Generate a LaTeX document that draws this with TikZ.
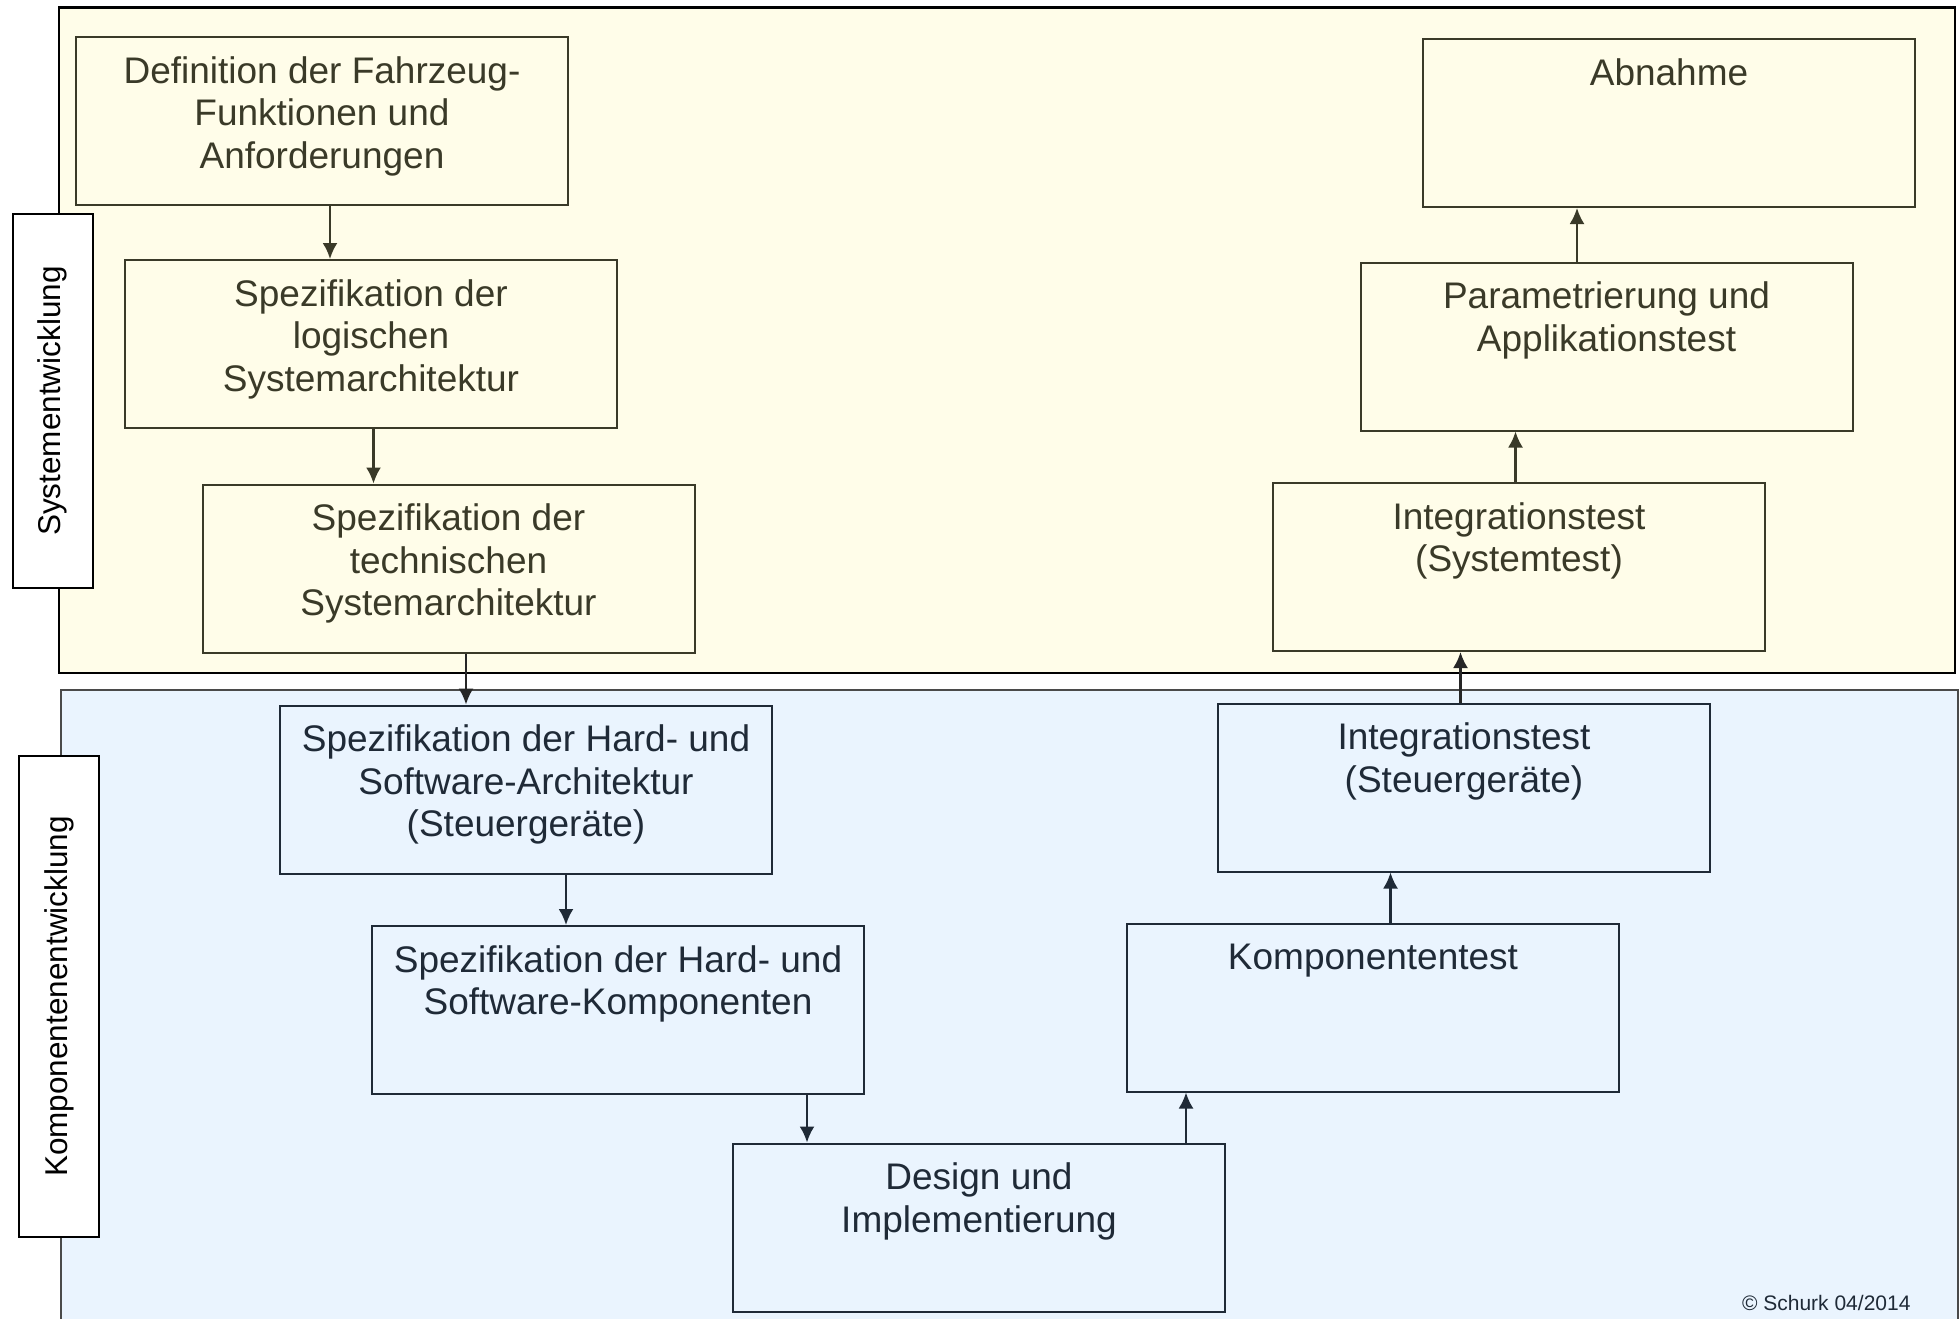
\documentclass[tikz,border=0pt]{standalone}
\usepackage{fontspec}
\setmainfont{Liberation Sans}
\usetikzlibrary{arrows.meta}
\definecolor{sysback}{HTML}{FFFDE9}
\definecolor{kompback}{HTML}{EAF4FE}
\definecolor{syslinie}{HTML}{3A3A28}
\definecolor{komplinie}{HTML}{1F2A37}
\definecolor{kompgrenze}{HTML}{4A4A4A}
\newcommand{\boxtxt}[1]{\parbox[c][168pt][t]{484pt}{\centering\rule{0pt}{46pt}#1}}
\begin{document}
\begin{tikzpicture}[x=1pt, y=-1pt,
    sysbox/.style={draw=syslinie, text=syslinie, line width=2pt, inner sep=0pt, minimum width=492pt, minimum height=168pt, font=\fontsize{37}{42.5}\selectfont},
    kompbox/.style={sysbox, draw=komplinie, text=komplinie},
    seitenbox/.style={draw=black, fill=white, line width=2pt, inner sep=0pt, rotate=90, font=\fontsize{31.5}{36}\selectfont},
    arr/.style={-{Latex[length=16pt,width=15pt]}, line width=2.3pt}]
    \useasboundingbox (0,0) rectangle (1959,1318);
    \clip (0,0) rectangle (1959,1318);

    %bereiche
    \fill[white] (0,0) rectangle (1959,1318);
    \draw[fill=sysback, line width=2.5pt] (59,7.5) rectangle (1955,673);
    \draw[fill=kompback, draw=kompgrenze, line width=1.5pt] (61,690) rectangle (1958,1330);

    %seitenbeschriftung
    \node[seitenbox, minimum width=374pt, minimum height=80pt] (sys) at (52.5,401) {Systementwicklung};
    \node[seitenbox, minimum width=481pt, minimum height=80pt] (komp) at (59,996.5) {Komponentenentwicklung};

    %linker ast
    \node[sysbox] (def) at (322,121) {\boxtxt{Definition der Fahrzeug-\\Funktionen und\\Anforderungen}};
    \node[sysbox] (logarch) at (371,344) {\boxtxt{Spezifikation der\\logischen\\Systemarchitektur}};
    \node[sysbox] (techarch) at (448.5,568.5) {\boxtxt{Spezifikation der\\technischen\\Systemarchitektur}};
    \node[kompbox] (hwswarch) at (526,789.5) {\boxtxt{Spezifikation der Hard- und\\Software-Architektur\\(Steuergeräte)}};
    \node[kompbox] (hwswkomp) at (618,1010) {\boxtxt{Spezifikation der Hard- und\\Software-Komponenten}};
    \node[kompbox] (design) at (979,1227.5) {\boxtxt{Design und\\Implementierung}};

    %rechter ast
    \node[kompbox] (komptest) at (1373,1007.5) {\boxtxt{Komponententest}};
    \node[kompbox] (intsg) at (1464,787.5) {\boxtxt{Integrationstest\\(Steuergeräte)}};
    \node[sysbox] (intsys) at (1519,567) {\boxtxt{Integrationstest\\(Systemtest)}};
    \node[sysbox] (param) at (1606.5,346.5) {\boxtxt{Parametrierung und\\Applikationstest}};
    \node[sysbox] (abnahme) at (1669,123) {\boxtxt{Abnahme}};

    %pfeile
    \draw[arr, draw=syslinie] ([xshift=8pt]def.south) -- ([xshift=8pt]def.south |- logarch.north);
    \draw[arr, draw=syslinie] ([xshift=2.5pt]logarch.south) -- ([xshift=2.5pt]logarch.south |- techarch.north);
    \draw[arr, draw=black!85] ([xshift=17.5pt]techarch.south) -- ([xshift=17.5pt]techarch.south |- hwswarch.north);
    \draw[arr, draw=komplinie] ([xshift=40pt]hwswarch.south) -- ([xshift=40pt]hwswarch.south |- hwswkomp.north);
    \draw[arr, draw=komplinie] ([xshift=189pt]hwswkomp.south) -- ([xshift=189pt]hwswkomp.south |- design.north);
    \draw[arr, draw=komplinie] ([xshift=207pt]design.north) -- ([xshift=207pt]design.north |- komptest.south);
    \draw[arr, draw=komplinie] ([xshift=17.5pt]komptest.north) -- ([xshift=17.5pt]komptest.north |- intsg.south);
    \draw[arr, draw=black!85] ([xshift=-3.5pt]intsg.north) -- ([xshift=-3.5pt]intsg.north |- intsys.south);
    \draw[arr, draw=syslinie] ([xshift=-3.5pt]intsys.north) -- ([xshift=-3.5pt]intsys.north |- param.south);
    \draw[arr, draw=syslinie] ([xshift=-29.5pt]param.north) -- ([xshift=-29.5pt]param.north |- abnahme.south);

    %copyright
    \node[anchor=east, text=komplinie, font=\fontsize{21}{25}\selectfont] (copy) at (1914,1303) {© Schurk 04/2014};
\end{tikzpicture}
\end{document}
